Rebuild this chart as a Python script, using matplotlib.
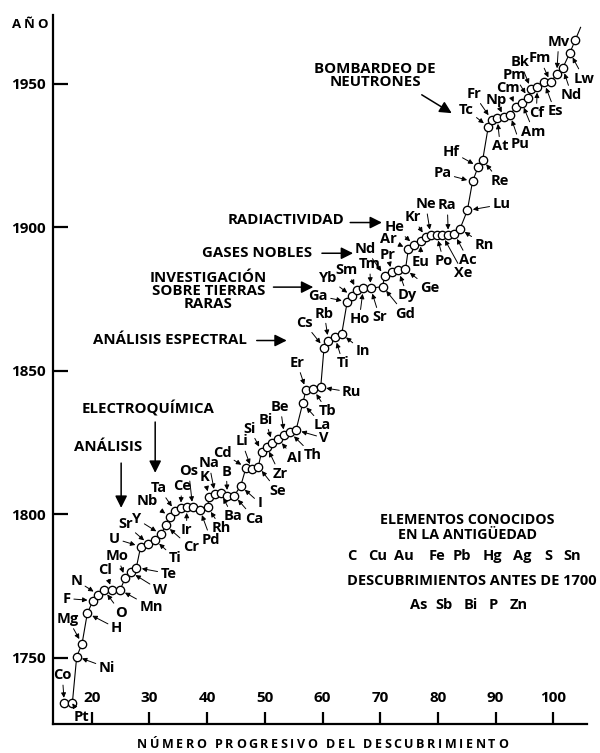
import matplotlib
matplotlib.use("Agg")
import matplotlib.pyplot as plt
from matplotlib.font_manager import FontProperties
from matplotlib.textpath import TextToPath

FONT = ["Open Sans", "DejaVu Sans"]
plt.rcParams["font.family"] = FONT
plt.rcParams["font.weight"] = "bold"

# progressive discovery number (as drawn) and year of each element
num = [15.25, 16.64, 17.40, 18.32, 19.24, 20.23, 21.14, 22.13, 23.52, 24.90,
       25.82, 26.76, 27.73, 28.49, 29.81, 30.97, 32.01, 32.82, 33.52, 34.44,
       35.42, 36.46, 37.50, 38.77, 40.10, 40.33, 41.37, 42.36, 43.50, 44.71,
       45.82, 46.74, 47.73, 48.87, 49.46, 50.33, 51.30, 52.34, 53.38, 54.37,
       55.41, 56.57, 57.14, 58.41, 59.69, 60.26, 61.01, 62.17, 63.33, 64.28,
       65.06, 65.93, 67.07, 68.35, 70.43, 70.75, 71.99, 73.14, 74.38, 74.87,
       75.91, 77.02, 77.89, 78.75, 79.79, 80.76, 81.80, 82.84, 83.83, 85.10,
       86.00, 87.00, 87.76, 88.73, 89.32, 90.29, 91.46, 92.50, 93.48, 94.52,
       95.67, 96.14, 97.23, 98.39, 99.55, 100.59, 101.63, 102.89, 103.81]
year = [1734.2, 1734.2, 1750.5, 1754.9, 1765.6, 1770.0, 1772.1, 1773.7, 1773.7, 1773.7,
        1777.8, 1779.9, 1781.5, 1788.8, 1789.7, 1791.1, 1793.1, 1796.2, 1799.2, 1801.2,
        1802.2, 1802.5, 1802.5, 1801.6, 1802.5, 1806.2, 1807.0, 1807.4, 1806.6, 1806.6,
        1809.9, 1816.3, 1815.7, 1816.7, 1821.9, 1823.6, 1825.0, 1826.3, 1827.7, 1828.6,
        1829.4, 1838.7, 1843.4, 1843.6, 1844.3, 1858.1, 1860.6, 1861.7, 1862.9, 1874.1,
        1876.1, 1878.2, 1878.8, 1878.8, 1879.4, 1883.1, 1884.3, 1885.0, 1885.4, 1892.4,
        1893.9, 1895.3, 1896.6, 1897.3, 1897.3, 1897.3, 1897.3, 1897.7, 1899.5, 1905.9,
        1916.0, 1921.2, 1923.5, 1935.1, 1937.5, 1938.0, 1938.3, 1939.2, 1941.9, 1943.5,
        1945.0, 1948.2, 1948.9, 1950.5, 1950.5, 1953.5, 1955.5, 1960.9, 1965.3]

# element symbol, point number (1-based), label offset in pixels (dx, dy)
labels = [
    ("Co", 1, -2, 28), ("Pt", 2, 9, -14), ("Ni", 3, 30, -11), ("Mg", 4, -14, 25),
    ("H", 5, 29, -15), ("F", 6, -26, 2), ("N", 7, -22, 14), ("O", 8, 17, -23),
    ("Cl", 9, -7, 20), ("Mn", 10, 31, -17), ("Mo", 11, -8, 22), ("W", 12, 29, -18),
    ("Te", 13, 32, -6), ("U", 14, -26, 8), ("Sr", 15, -23, 20), ("Ti", 16, 20, -18),
    ("Y", 17, -24, 15), ("Cr", 18, 25, -22), ("Nb", 19, -22, 16), ("Ta", 20, -16, 23),
    ("Ce", 21, 1, 22), ("Ir", 22, 0, -23), ("Os", 23, -4, 36), ("Pd", 24, 11, -30),
    ("Rh", 25, 14, -21), ("K", 26, -5, 20), ("Na", 27, -6, 31), ("Ba", 28, 12, -23),
    ("B", 29, -1, 24), ("Ca", 30, 20, -23), ("I", 31, 19, -17), ("Cd", 32, -24, 15),
    ("Li", 33, -10, 28), ("Se", 34, 19, -24), ("Si", 35, -12, 23), ("Zr", 36, 13, -27),
    ("Bi", 37, -7, 23), ("Al", 38, 16, -19), ("Be", 39, -4, 28), ("Th", 40, 23, -23),
    ("V", 41, 28, -8), ("La", 42, 20, -22), ("Er", 43, -9, 27), ("Tb", 44, 14, -22),
    ("Ru", 45, 31, -5), ("Cs", 46, -20, 25), ("Rb", 47, -4, 27), ("Ti", 48, 8, -26),
    ("In", 49, 21, -17), ("Ga", 50, -29, 6), ("Yb", 51, -24, 18), ("Sm", 52, -10, 20),
    ("Ho", 53, -4, -31), ("Tm", 54, -1, 24), ("Sr", 54, 9, -29), ("Gd", 55, 22, -27),
    ("Nd", 56, -19, 27), ("Pr", 57, -4, 17), ("Dy", 58, 9, -25), ("Ge", 59, 24, -19),
    ("Ar", 60, -20, 10), ("He", 61, -20, 18), ("Eu", 62, 0, -21), ("Kr", 63, -13, 20),
    ("Ne", 64, -5, 31), ("Po", 65, 7, -26), ("Xe", 66, 21, -38), ("Ra", 67, -1, 30),
    ("Ac", 68, 14, -26), ("Rn", 69, 24, -16), ("Lu", 70, 34, 6), ("Pa", 71, -30, 8),
    ("Hf", 72, -27, 15), ("Re", 73, 17, -21), ("Tc", 74, -22, 17), ("Fr", 75, -18, 26),
    ("At", 76, 3, -28), ("Np", 77, -8, 17), ("Pu", 78, 10, -29), ("Cm", 79, -8, 19),
    ("Am", 80, 12, -29), ("Pm", 81, -14, 23), ("Bk", 82, -11, 27), ("Cf", 83, -1, -26),
    ("Es", 84, 11, -29), ("Fm", 85, -11, 24), ("Mv", 86, 2, 32), ("Nd", 87, 9, -27),
    ("Lw", 88, 14, -26),
]

# eras: text, text position (num, year), arrow tail, arrow head
eras = [
    ("ANÁLISIS", (22.8, 1823.6), (25.1, 1817.9), (25.1, 1802.3)),
    ("ELECTROQUÍMICA", (29.7, 1836.8), (31.0, 1832.2), (31.0, 1814.5)),
    ("ANÁLISIS ESPECTRAL", (33.6, 1860.8), (48.6, 1860.6), (53.8, 1860.6)),
    ("INVESTIGACIÓN\nSOBRE TIERRAS\nRARAS", (40.2, 1877.9), (51.5, 1879.2), (58.4, 1879.2)),
    ("GASES NOBLES", (48.6, 1891.2), (59.9, 1891.0), (65.3, 1891.0)),
    ("RADIACTIVIDAD", (53.7, 1902.6), (64.8, 1901.7), (70.3, 1901.7)),
    ("BOMBARDEO DE\nNEUTRONES", (69.1, 1953.0), (77.2, 1946.2), (82.4, 1939.8)),
]

antiquity = ["C", "Cu", "Au", "Fe", "Pb", "Hg", "Ag", "S", "Sn"]
antiquity_x = [0.560, 0.607, 0.657, 0.719, 0.766, 0.822, 0.878, 0.927, 0.972]
pre1700 = ["As", "Sb", "Bi", "P", "Zn"]
pre1700_x = [0.684, 0.732, 0.783, 0.824, 0.873]

x_ticks = [20, 30, 40, 50, 60, 70, 80, 90, 100]
y_ticks = [1750, 1800, 1850, 1900, 1950]

fig = plt.figure(figsize=(6.0, 7.53), dpi=100)
ax = fig.add_axes([53 / 600, 29 / 753, 534 / 600, 709 / 753])
ax.set_xlim(13.29, 105.84)
ax.set_ylim(1727.0, 1974.0)

# line runs on a little past the last element
tail_x = num[-1] + (num[-1] - num[-2])
tail_y = year[-1] + (year[-1] - year[-2])
ax.plot(num + [tail_x], year + [tail_y], color="black", lw=0.8, zorder=1)
ax.plot(num, year, "o", ms=6, mfc="white", mec="black", mew=0.95, zorder=2)

for sym, i, dx, dy in labels:
    ax.annotate(sym, (num[i - 1], year[i - 1]), xytext=(dx, dy),
                textcoords="offset pixels", ha="center", va="center",
                fontsize=10.5, annotation_clip=False,
                arrowprops=dict(arrowstyle="-|>", lw=0.7, color="black",
                                mutation_scale=7, shrinkA=0, shrinkB=4))

for text, pos, tail, head in eras:
    ax.text(pos[0], pos[1], text, ha="center", va="center", fontsize=10.8,
            linespacing=0.9)
    ax.annotate("", xy=head, xytext=tail,
                arrowprops=dict(arrowstyle="-|>,head_length=0.6,head_width=0.3",
                                lw=1.1, color="black", mutation_scale=12,
                                shrinkA=0, shrinkB=0))

tr = ax.transAxes
ax.text(0.776, 0.2877, "ELEMENTOS CONOCIDOS", transform=tr, ha="center", va="center", fontsize=10.3)
ax.text(0.776, 0.2666, "EN LA ANTIGÜEDAD", transform=tr, ha="center", va="center", fontsize=10.3)
for sym, x in zip(antiquity, antiquity_x):
    ax.text(x, 0.2370, sym, transform=tr, ha="center", va="center", fontsize=10.5)
ax.text(0.7837, 0.2017, "DESCUBRIMIENTOS ANTES DE 1700", transform=tr,
        ha="center", va="center", fontsize=10.5)
for sym, x in zip(pre1700, pre1700_x):
    ax.text(x, 0.1678, sym, transform=tr, ha="center", va="center", fontsize=10.5)

for side in ("top", "right"):
    ax.spines[side].set_visible(False)
for side in ("left", "bottom"):
    ax.spines[side].set_linewidth(1.6)

ax.set_yticks(y_ticks)
ax.set_yticklabels([str(v) for v in y_ticks])
ax.tick_params(axis="y", direction="in", length=11, width=1.6, pad=5, labelsize=11)
ax.set_xticks(x_ticks)
ax.tick_params(axis="x", direction="in", length=8.5, width=1.6, labelbottom=False)
for v in x_ticks:
    ax.text(v, 0.037, str(v), transform=ax.get_xaxis_transform(),
            ha="center", va="center", fontsize=11)


def spaced(x, y, s, size, width_px):
    # letter-spaced caption, centred on (x, y) in figure pixels, y at baseline
    fp = FontProperties(family=FONT, weight="bold", size=size)
    t2p = TextToPath()
    widths = []
    for ch in s:
        if ch == " ":
            widths.append(size * 0.25)
        else:
            widths.append(t2p.get_text_width_height_descent(ch, fp, ismath=False)[0])
    target = width_px * 72 / 100
    gap = (target - sum(widths)) / (len(s) - 1)
    pos = -target / 2
    for ch, w in zip(s, widths):
        ax.annotate(ch, (x, y), xycoords="figure pixels", xytext=(pos + w / 2, 0),
                    textcoords="offset points", ha="center", va="baseline",
                    fontsize=size, annotation_clip=False)
        pos += w + gap


spaced(29.5, 724.7, "AÑO", 9.5, 35.6)
spaced(322.5, 4.7, "NÚMERO PROGRESIVO DEL DESCUBRIMIENTO", 9, 371)

fig.savefig("out.png", dpi=100)
